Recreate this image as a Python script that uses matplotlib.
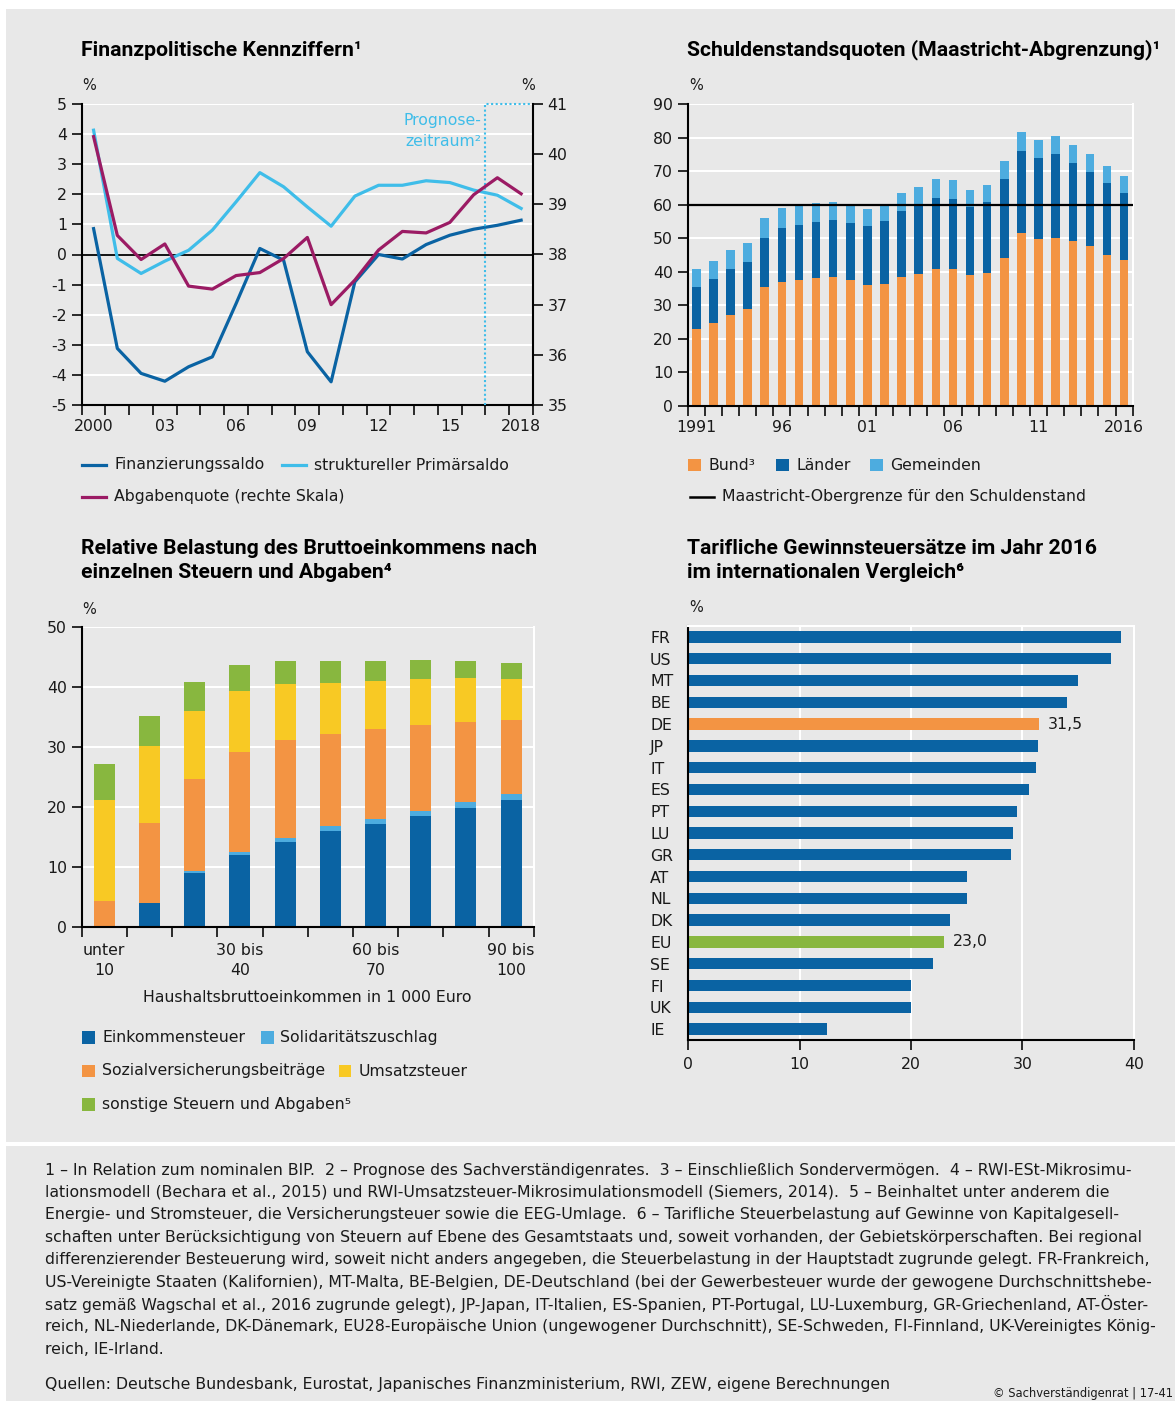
import numpy as np
import matplotlib
matplotlib.use('Agg')
import matplotlib.pyplot as plt
from matplotlib.transforms import Affine2D
from matplotlib.patches import Rectangle
from matplotlib.lines import Line2D

plt.rcParams['font.family'] = ['DejaVu Sans']
plt.rcParams['axes.unicode_minus'] = False

# --- Daten ---------------------------------------------------------------
jahre1 = np.arange(2000, 2019)
finanzierungssaldo = [0.86, -3.12, -3.95, -4.21, -3.73, -3.40, -1.63, 0.20, -0.19, -3.23,
                      -4.23, -0.91, 0.00, -0.15, 0.33, 0.64, 0.84, 0.97, 1.14]
primaersaldo = [4.13, -0.13, -0.63, -0.22, 0.14, 0.81, 1.75, 2.72, 2.25, 1.58,
                0.94, 1.94, 2.30, 2.30, 2.45, 2.39, 2.14, 1.97, 1.53]
abgabenquote = [40.35, 38.38, 37.90, 38.21, 37.37, 37.31, 37.58, 37.64, 37.92, 38.34,
                37.00, 37.49, 38.09, 38.46, 38.43, 38.64, 39.19, 39.53, 39.21]
labeljahre1 = [2000, 2003, 2006, 2009, 2012, 2015, 2018]
labels1 = ['2000', '03', '06', '09', '12', '15', '2018']

jahre2 = np.arange(1991, 2017)
bund = [22.9, 24.7, 27.0, 28.8, 35.4, 36.9, 37.5, 38.1, 38.4, 37.5, 36.0, 36.3, 38.4,
        39.3, 40.8, 40.8, 39.0, 39.6, 44.0, 51.5, 49.7, 50.0, 49.1, 47.6, 44.9, 43.4]
laender = [12.5, 13.1, 13.8, 14.0, 14.6, 16.1, 16.4, 16.7, 17.0, 17.0, 17.6, 18.8, 19.7,
           20.5, 21.1, 20.8, 20.2, 21.1, 23.6, 24.4, 24.2, 25.0, 23.3, 22.1, 21.5, 20.0]
gemeinden = [5.4, 5.3, 5.6, 5.7, 6.0, 5.9, 5.9, 5.6, 5.3, 5.0, 5.0, 5.0, 5.3,
             5.4, 5.7, 5.7, 5.1, 5.1, 5.4, 5.7, 5.3, 5.4, 5.3, 5.3, 5.1, 5.1]
maastricht = 60
labeljahre2 = [1991, 1996, 2001, 2006, 2011, 2016]
labels2 = ['1991', '96', '01', '06', '11', '2016']

einkommensklassen = ['unter\n10', '', '', '30 bis\n40', '', '', '60 bis\n70', '', '', '90 bis\n100']
einkommensteuer = [0.0, 4.05, 9.0, 12.0, 14.2, 16.0, 17.2, 18.5, 19.85, 21.2]
soli = [0.0, 0.0, 0.3, 0.5, 0.7, 0.85, 0.8, 0.85, 1.0, 1.0]
sozialversicherung = [4.4, 13.3, 15.4, 16.7, 16.3, 15.3, 15.0, 14.3, 13.3, 12.3]
umsatzsteuer = [16.8, 12.8, 11.3, 10.1, 9.3, 8.45, 8.0, 7.65, 7.3, 6.8]
sonstige = [6.0, 4.95, 4.8, 4.3, 3.8, 3.7, 3.3, 3.15, 2.85, 2.65]

laender_codes = ['FR', 'US', 'MT', 'BE', 'DE', 'JP', 'IT', 'ES', 'PT', 'LU',
                 'GR', 'AT', 'NL', 'DK', 'EU', 'SE', 'FI', 'UK', 'IE']
steuersaetze = [38.9, 38.0, 35.0, 34.0, 31.5, 31.4, 31.2, 30.6, 29.5, 29.2,
                29.0, 25.0, 25.0, 23.5, 23.0, 22.0, 20.0, 20.0, 12.5]

# --- Farben --------------------------------------------------------------
DUNKELBLAU = '#0a63a3'
HELLBLAU_LINIE = '#3fbde9'
HELLBLAU = '#4dacdf'
MAGENTA = '#9b1b64'
ORANGE = '#f39443'
GELB = '#f8c924'
GRUEN = '#88b73f'
GRAU = '#e8e8e8'
TXT = '#1a1a1a'

W, H = 1175, 1401
fig = plt.figure(figsize=(W / 100, H / 100), dpi=100, facecolor='white')
px = Affine2D().scale(1 / W, -1 / H).translate(0, 1) + fig.transFigure

fig.patches.append(Rectangle((6, 9), W - 6, H - 9, transform=px, facecolor=GRAU,
                             edgecolor='none', zorder=-10))
fig.patches.append(Rectangle((6, 1141.5), W - 6, 4, transform=px, facecolor='white',
                             edgecolor='none', zorder=-9))

FS = 11.3
TITEL = dict(fontsize=15.2, fontweight='bold', family=['Roboto', 'DejaVu Sans'],
             color='black', transform=px, va='center')


def achse(l, t, r, b):
    a = fig.add_axes([l / W, 1 - b / H, (r - l) / W, (b - t) / H])
    a.set_facecolor(GRAU)
    a.tick_params(labelsize=FS, colors=TXT, width=1.3, length=7, direction='out')
    for s in a.spines.values():
        s.set_linewidth(1.5)
    a.spines['top'].set_visible(False)
    a.spines['right'].set_color('white')
    a.set_axisbelow(True)
    return a


def txt(x, y, s, **kw):
    d = dict(fontsize=FS, color=TXT, transform=px, va='center')
    d.update(kw)
    fig.text(x, y, s, **d)


def kasten(x, y, farbe):
    fig.patches.append(Rectangle((x, y - 6.5), 12.5, 12.5, transform=px, facecolor=farbe,
                                 edgecolor='none'))


def strich(x, y, farbe, lw=2.3):
    fig.lines.append(Line2D([x, x + 24], [y, y], transform=px, color=farbe, lw=lw))


# --- 1: Finanzpolitische Kennziffern ---------------------------------------
ax1 = achse(81.7, 104, 533, 405)
ax1.set_xlim(2000, 2019)
ax1.set_ylim(-5, 5)
ax1.set_yticks(np.arange(-5, 6))
ax1.yaxis.grid(True, color='white', lw=1.5)
ax1.axhline(0, color='black', lw=1.3, zorder=2)
ax1.set_xticks(np.arange(2000, 2020))
ax1.set_xticklabels([])
ax1.set_xticks(np.array(labeljahre1) + 0.5, labels1, minor=True)
ax1.tick_params(axis='x', which='minor', length=0, pad=10, labelsize=FS, colors=TXT)
ax1.spines['right'].set_visible(False)
x1 = jahre1 + 0.5
ax1.plot(x1, finanzierungssaldo, color=DUNKELBLAU, lw=2.3, zorder=4)
ax1.plot(x1, primaersaldo, color=HELLBLAU_LINIE, lw=2.3, zorder=3)
ax1.plot([2017, 2017, 2019], [-5, 5, 5], color=HELLBLAU_LINIE, lw=1.5, ls=(0, (1, 1.2)), zorder=5,
         clip_on=False)
ax1r = ax1.twinx()
ax1r.set_ylim(35, 41)
ax1r.set_yticks(np.arange(35, 42))
ax1r.tick_params(labelsize=FS, colors=TXT, width=1.3, length=7)
for s in ['top', 'left', 'bottom']:
    ax1r.spines[s].set_visible(False)
ax1r.spines['right'].set_linewidth(1.5)
ax1r.plot(x1, abgabenquote, color=MAGENTA, lw=2.3)
txt(481, 121, 'Prognose-', ha='right', color=HELLBLAU_LINIE)
txt(481, 142, 'zeitraum²', ha='right', color=HELLBLAU_LINIE)
fig.text(81, 50, 'Finanzpolitische Kennziffern¹', **TITEL)
txt(82, 85, '%', fontsize=10.5)
txt(521, 85, '%', fontsize=10.5)
strich(82, 465, DUNKELBLAU)
txt(114, 465, 'Finanzierungssaldo')
strich(282, 465, HELLBLAU_LINIE)
txt(314, 465, 'struktureller Primärsaldo')
strich(82, 497, MAGENTA)
txt(114, 497, 'Abgabenquote (rechte Skala)')

# --- 2: Schuldenstandsquoten -----------------------------------------------
ax2 = achse(687.7, 104, 1132.7, 405.7)
ax2.set_xlim(jahre2[0] - 0.5, jahre2[-1] + 0.5)
ax2.set_ylim(0, 90)
ax2.set_yticks(np.arange(0, 91, 10))
ax2.yaxis.grid(True, color='white', lw=1.5)
ax2.set_xticks(np.arange(jahre2[0] - 0.5, jahre2[-1] + 1))
ax2.set_xticklabels([])
ax2.set_xticks(labeljahre2, labels2, minor=True)
ax2.tick_params(axis='x', which='minor', length=0, pad=10, labelsize=FS, colors=TXT)
b1 = np.array(bund)
b2 = b1 + np.array(laender)
ax2.bar(jahre2, bund, width=0.5, color=ORANGE, zorder=2)
ax2.bar(jahre2, laender, bottom=b1, width=0.5, color=DUNKELBLAU, zorder=2)
ax2.bar(jahre2, gemeinden, bottom=b2, width=0.5, color=HELLBLAU, zorder=2)
ax2.axhline(maastricht, color='black', lw=1.6, zorder=3)
fig.text(687, 50, 'Schuldenstandsquoten (Maastricht-Abgrenzung)¹', **TITEL)
txt(689, 85, '%', fontsize=10.5)
kasten(688.3, 465, ORANGE)
txt(708.5, 465, 'Bund³')
kasten(776, 465, DUNKELBLAU)
txt(796.5, 465, 'Länder')
kasten(870, 465, HELLBLAU)
txt(890.5, 465, 'Gemeinden')
strich(690, 497, 'black', lw=1.8)
txt(722.5, 497, 'Maastricht-Obergrenze für den Schuldenstand')

# --- 3: Relative Belastung ---------------------------------------------------
ax3 = achse(81.7, 626.7, 533.7, 927.3)
n3 = len(einkommensteuer)
pos3 = np.arange(n3)
ax3.set_xlim(-0.5, n3 - 0.5)
ax3.set_ylim(0, 50)
ax3.set_yticks(np.arange(0, 51, 10))
ax3.yaxis.grid(True, color='white', lw=1.5)
ax3.set_xticks(np.arange(n3 + 1) - 0.5)
ax3.set_xticklabels([])
ax3.set_xticks(pos3, einkommensklassen, minor=True)
ax3.tick_params(axis='x', which='minor', length=0, pad=11, labelsize=FS, colors=TXT)
for lab in ax3.get_xticklabels(minor=True):
    lab.set_linespacing(1.45)
unten = np.zeros(n3)
for werte, farbe in [(einkommensteuer, DUNKELBLAU), (soli, HELLBLAU), (sozialversicherung, ORANGE),
                     (umsatzsteuer, GELB), (sonstige, GRUEN)]:
    ax3.bar(pos3, werte, bottom=unten, width=0.465, color=farbe, zorder=2)
    unten = unten + np.array(werte)
fig.text(81, 548, 'Relative Belastung des Bruttoeinkommens nach', **TITEL)
fig.text(81, 573, 'einzelnen Steuern und Abgaben⁴', **TITEL)
txt(82, 609, '%', fontsize=10.5)
txt(307, 997, 'Haushaltsbruttoeinkommen in 1 000 Euro', ha='center')
kasten(82, 1037.5, DUNKELBLAU)
txt(102, 1037.5, 'Einkommensteuer')
kasten(261, 1037.5, HELLBLAU)
txt(280, 1037.5, 'Solidaritätszuschlag')
kasten(82, 1071, ORANGE)
txt(102, 1071, 'Sozialversicherungsbeiträge')
kasten(338.5, 1071, GELB)
txt(359, 1071, 'Umsatzsteuer')
kasten(82, 1104.5, GRUEN)
txt(102, 1104.5, 'sonstige Steuern und Abgaben⁵')

# --- 4: Tarifliche Gewinnsteuersaetze ----------------------------------------
ax4 = achse(688.3, 626, 1133.7, 1040)
n4 = len(laender_codes)
pos4 = np.arange(n4)
ax4.set_ylim(n4 - 0.5, -0.5)
ax4.set_xlim(0, 40)
ax4.set_xticks(np.arange(0, 41, 10))
ax4.tick_params(axis='x', pad=5.5)
ax4.xaxis.grid(True, color='white', lw=1.5)
ax4.spines['top'].set_visible(True)
ax4.spines['top'].set_color('white')
ax4.set_yticks(pos4, laender_codes)
ax4.tick_params(axis='y', length=0, pad=27.5)
for lab in ax4.get_yticklabels():
    lab.set_horizontalalignment('left')
farben4 = [ORANGE if c == 'DE' else GRUEN if c == 'EU' else DUNKELBLAU for c in laender_codes]
ax4.barh(pos4, steuersaetze, height=0.52, color=farben4, zorder=2)
for i, c in enumerate(laender_codes):
    if c in ('DE', 'EU'):
        ax4.text(steuersaetze[i] + 0.8, i, f'{steuersaetze[i]:.1f}'.replace('.', ','),
                 va='center', ha='left', fontsize=FS, color=TXT)
fig.text(687, 548, 'Tarifliche Gewinnsteuersätze im Jahr 2016', **TITEL)
fig.text(687, 573, 'im internationalen Vergleich⁶', **TITEL)
txt(689, 608, '%', fontsize=10.5)

# --- Fussnoten ---------------------------------------------------------------
fussnoten = [
    '1 – In Relation zum nominalen BIP.  2 – Prognose des Sachverständigenrates.  3 – Einschließlich Sondervermögen.  4 – RWI-ESt-Mikrosimu-',
    'lationsmodell (Bechara et al., 2015) und RWI-Umsatzsteuer-Mikrosimulationsmodell (Siemers, 2014).  5 – Beinhaltet unter anderem die',
    'Energie- und Stromsteuer, die Versicherungsteuer sowie die EEG-Umlage.  6 – Tarifliche Steuerbelastung auf Gewinne von Kapitalgesell-',
    'schaften unter Berücksichtigung von Steuern auf Ebene des Gesamtstaats und, soweit vorhanden, der Gebietskörperschaften. Bei regional',
    'differenzierender Besteuerung wird, soweit nicht anders angegeben, die Steuerbelastung in der Hauptstadt zugrunde gelegt. FR-Frankreich,',
    'US-Vereinigte Staaten (Kalifornien), MT-Malta, BE-Belgien, DE-Deutschland (bei der Gewerbesteuer wurde der gewogene Durchschnittshebe-',
    'satz gemäß Wagschal et al., 2016 zugrunde gelegt), JP-Japan, IT-Italien, ES-Spanien, PT-Portugal, LU-Luxemburg, GR-Griechenland, AT-Öster-',
    'reich, NL-Niederlande, DK-Dänemark, EU28-Europäische Union (ungewogener Durchschnitt), SE-Schweden, FI-Finnland, UK-Vereinigtes König-',
    'reich, IE-Irland.',
]
for i, zeile in enumerate(fussnoten):
    txt(45, 1170 + i * 22.4, zeile, fontsize=11.3)
txt(45, 1385, 'Quellen: Deutsche Bundesbank, Eurostat, Japanisches Finanzministerium, RWI, ZEW, eigene Berechnungen',
    fontsize=11.3)
txt(1173, 1393, '© Sachverständigenrat | 17-41', ha='right', fontsize=8.3)

fig.savefig('out.png', dpi=100, facecolor=fig.get_facecolor())
